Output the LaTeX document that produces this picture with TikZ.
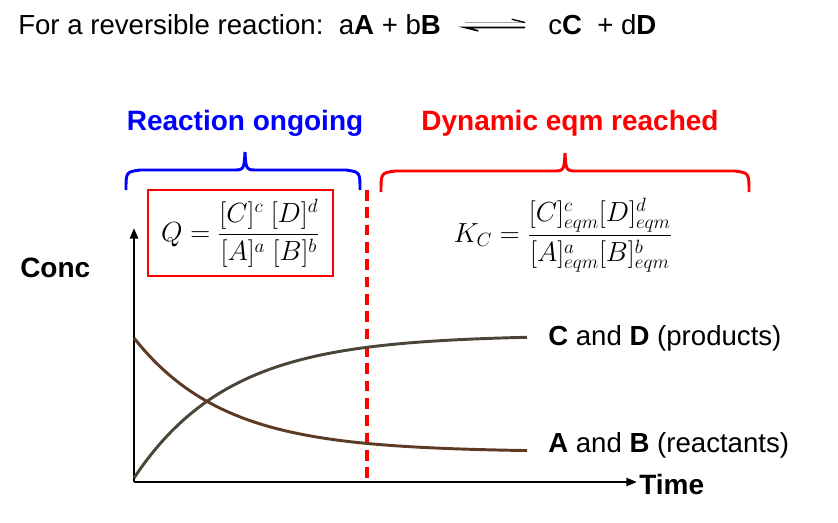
\documentclass[tikz,border=0pt]{standalone}
\usepackage{amsmath}
\usepackage{fontspec}
\setmainfont{Liberation Sans}
\usetikzlibrary{arrows.meta}
\definecolor{prod}{HTML}{4A4536}
\definecolor{reac}{HTML}{5C3A24}
\begin{document}
\begin{tikzpicture}[x=0.75pt,y=-0.75pt,
  lab/.style={font=\fontsize{20.7}{23}\selectfont,inner sep=0pt,anchor=base west},
  head/.style={font=\fontsize{21}{23}\selectfont\bfseries,inner sep=0pt,anchor=base},
  brace/.style={line width=2.2pt},
  curve/.style={line width=2.2pt}]
\useasboundingbox (0,0) rectangle (838,522);
% title
\node[lab] (t1) at (18,34) {For a reversible reaction:\ \ a\textbf{A} + b\textbf{B}};
\coordinate (ar1) at (465,22.5);
\coordinate (ar2) at (525,22.5);
\coordinate (al1) at (465,27.5);
\coordinate (al2) at (525,27.5);
\draw[gray!70,line width=1.2pt] (ar1) -- (ar2);
\draw[line width=1pt] ([xshift=-10pt,yshift=2.5pt]ar2) -- (ar2);
\draw[line width=1.2pt] (al2) -- (al1) -- ([xshift=10pt,yshift=-2.5pt]al1);
\node[lab] (t2) at (548,34) {c\textbf{C}\ \ + d\textbf{D}};
% headings
\node[head,text=blue] (h1) at (245,130) {Reaction ongoing};
\node[head,text=red] (h2) at (570,130) {Dynamic eqm reached};
% braces
\draw[brace,blue] (126,190) .. controls (126,172) .. (140,170) -- (232,170) .. controls (244,170) .. (245,152)
  .. controls (246,170) .. (258,170) -- (346,170) .. controls (360,172) .. (360,190);
\draw[brace,red] (381,192) .. controls (381,173) .. (395,171) -- (552,171) .. controls (564,171) .. (565,153)
  .. controls (566,171) .. (578,171) -- (735,171) .. controls (749,173) .. (749,192);
% formulas
\node[draw=red,line width=1.5pt,minimum width=185*0.75pt,minimum height=86*0.75pt,inner sep=0pt] (q) at (240.5,233) {};
\node[font=\fontsize{20}{22}\selectfont,inner sep=0pt] (qf) at (q.center)
  {$Q=\dfrac{[C]^c\ [D]^d}{[A]^a\ [B]^b}$};
\node[font=\fontsize{20}{22}\selectfont] (k) at (563,235)
  {$K_C=\dfrac{[C]^c_{eqm}[D]^d_{eqm}}{[A]^a_{eqm}[B]^b_{eqm}}$};
% dashed line
\coordinate (d1) at (367,190);
\coordinate (d2) at (367,482);
\draw[red,line width=2.4pt,dash pattern=on 8pt off 5pt] (d1) -- (d2);
% axes
\coordinate (o) at (134,482);
\coordinate (ytop) at (134,228);
\coordinate (xend) at (637,482);
\draw[line width=1.8pt,-{Triangle[length=8pt,width=6pt]}] (o) -- (ytop);
\draw[line width=1.8pt,-{Triangle[length=8pt,width=6pt]}] (o) -- (xend);
\node[lab,font=\fontsize{21}{23}\selectfont\bfseries,anchor=west] (time) at (639,484) {Time};
\node[lab,font=\fontsize{21}{23}\selectfont\bfseries] (conc) at (20,277) {Conc};
% curves
\draw[curve,prod] plot[domain=134:527,samples=80,smooth] (\x,{335+143*exp(-(\x-134)/95)});
\draw[curve,reac] plot[domain=134:527,samples=80,smooth] (\x,{452-114*exp(-(\x-134)/90)});
\node[lab] (pl) at (548,345) {\textbf{C} and \textbf{D} (products)};
\node[lab] (rl) at (548,452) {\textbf{A} and \textbf{B} (reactants)};
\end{tikzpicture}
\end{document}
